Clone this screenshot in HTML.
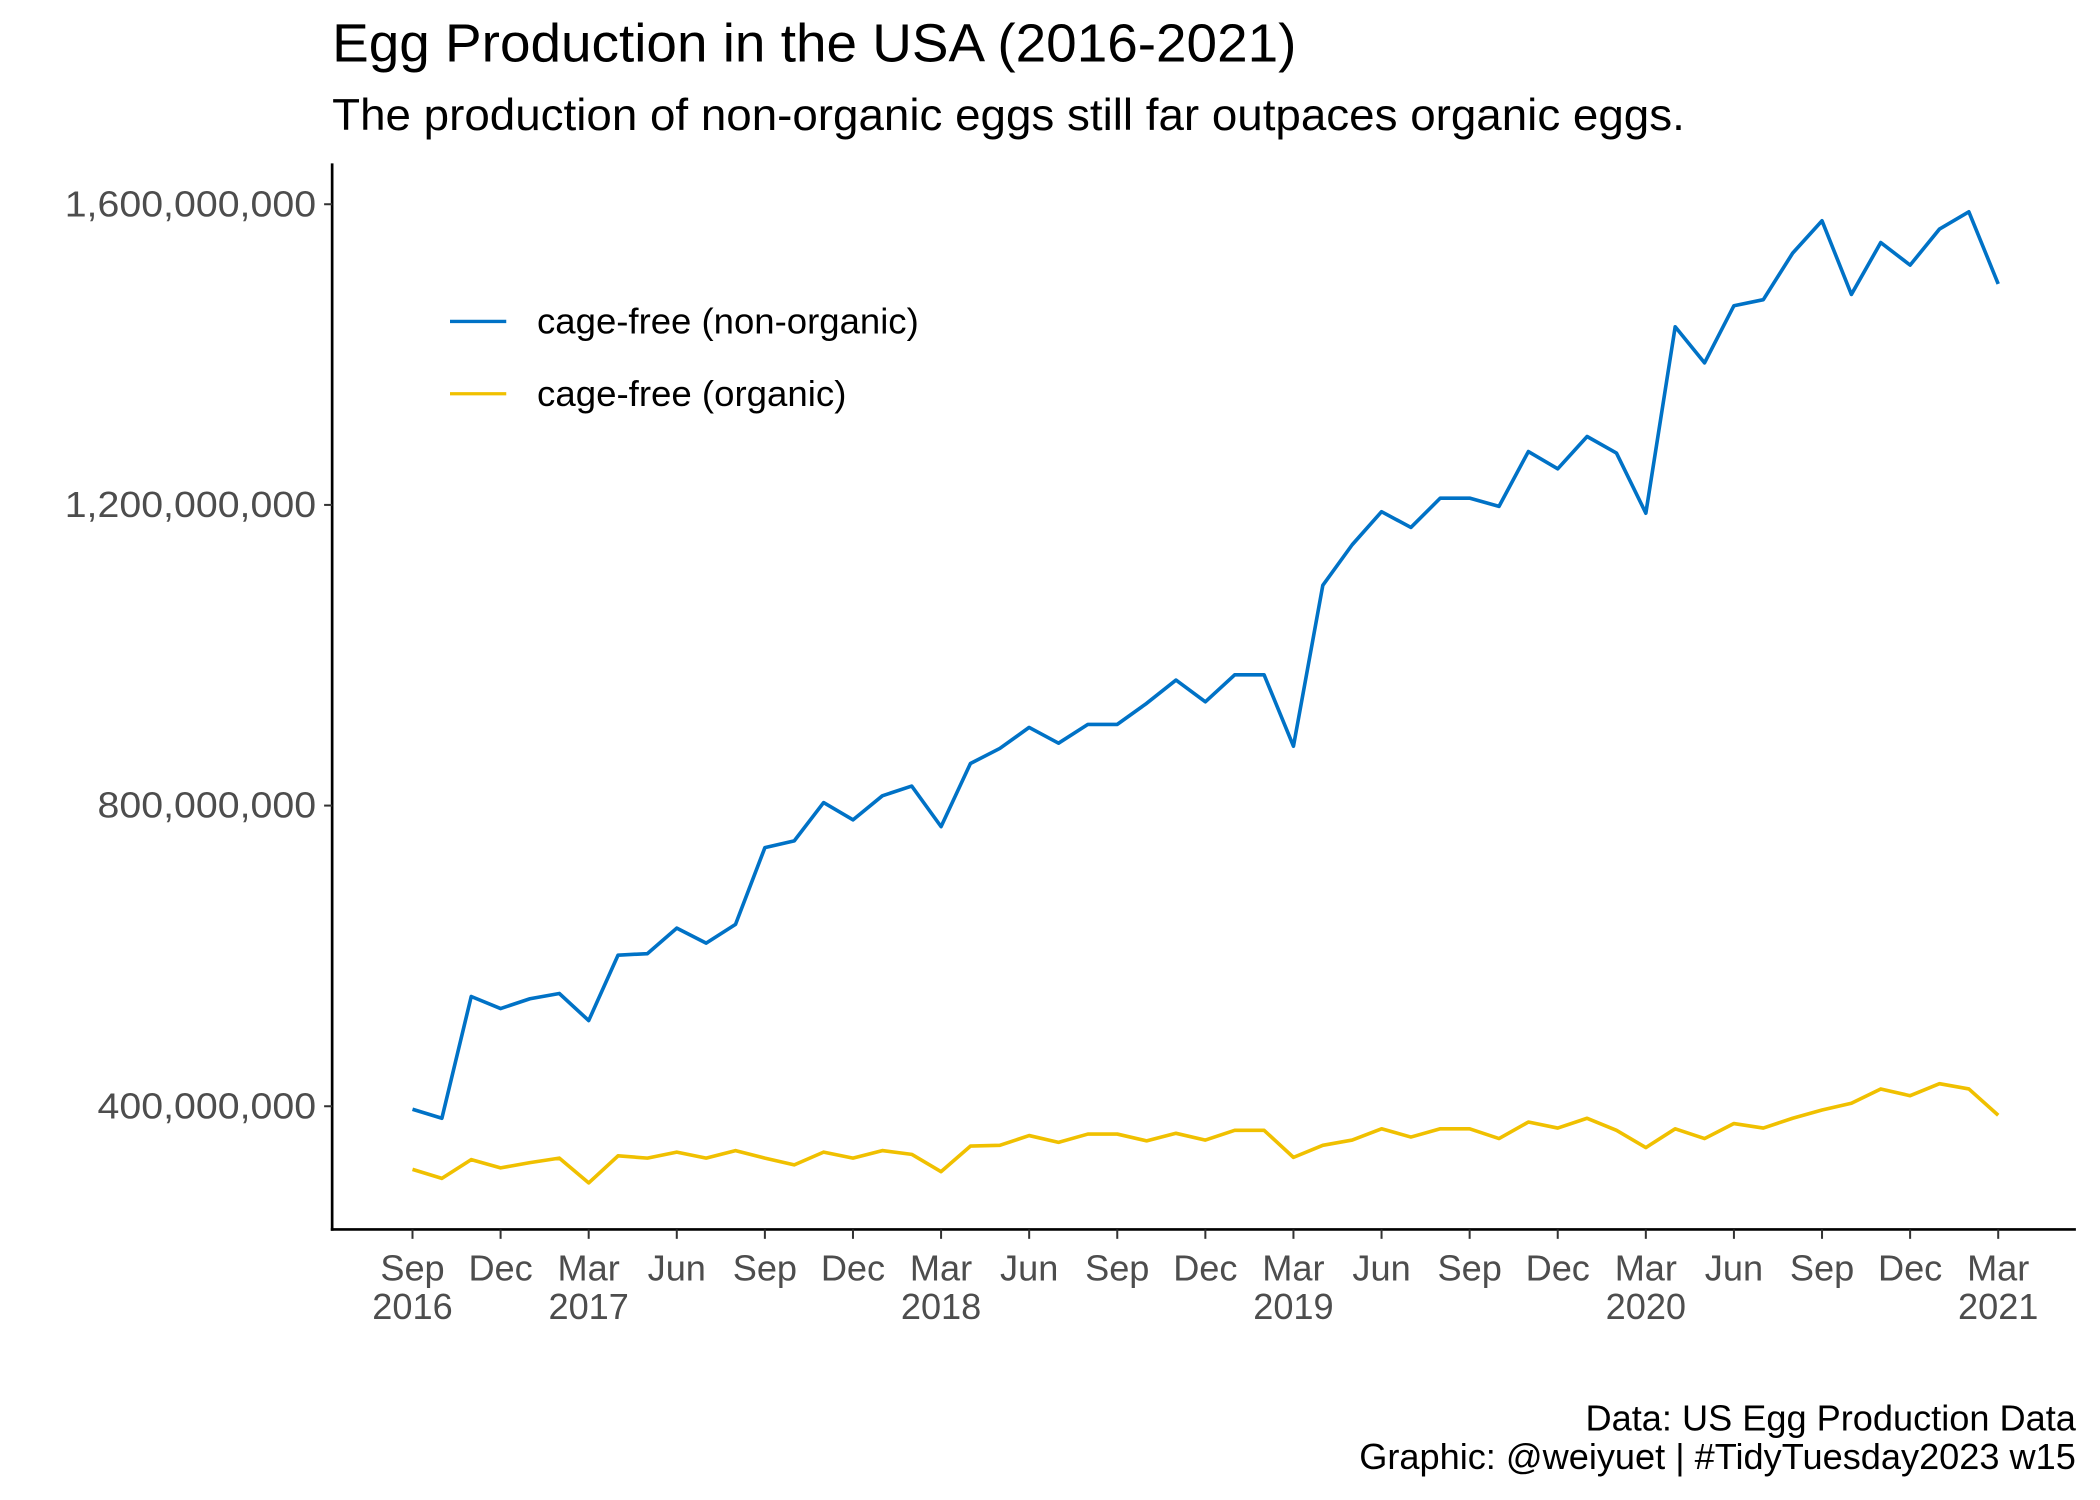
<!DOCTYPE html>
<html><head><meta charset="utf-8"><style>
html,body{margin:0;padding:0;background:#fff}
svg{display:block}
text{font-family:"Liberation Sans",Arial,sans-serif}
</style></head><body>
<svg id="chart" width="2100" height="1500" viewBox="0 0 1568 1120" xmlns="http://www.w3.org/2000/svg">
<rect width="1568" height="1120" fill="#fff"/>
<text x="248" y="46" font-size="40" textLength="720" lengthAdjust="spacingAndGlyphs" fill="#000">Egg Production in the USA (2016-2021)</text>
<text x="248" y="97" font-size="33" textLength="1010" lengthAdjust="spacingAndGlyphs" fill="#000">The production of non-organic eggs still far outpaces organic eggs.</text>
<g id="axes"></g>
<g id="series"></g>
<g>
<line x1="336" x2="378" y1="240" y2="240" stroke="#0072c6" stroke-width="2.5"/>
<text x="401" y="249" font-size="27" textLength="285" lengthAdjust="spacingAndGlyphs">cage-free (non-organic)</text>
<line x1="336" x2="378" y1="294" y2="294" stroke="#f0c000" stroke-width="2.5"/>
<text x="401" y="303" font-size="27" textLength="231" lengthAdjust="spacingAndGlyphs">cage-free (organic)</text>
</g>
<text x="1550" y="1068" font-size="27" text-anchor="end">Data: US Egg Production Data</text>
<text x="1550" y="1097" font-size="27" text-anchor="end">Graphic: @weiyuet | #TidyTuesday2023 w15</text>
</svg>
<script>
// values in millions of eggs, monthly Sep 2016 .. Mar 2021
const nonOrganic = [396,384,546,530,543,550,514,601,603,637,617,642,744,753,804,781,813,826,772,856,876,904,883,908,908,936,967,938,974,974,879,1093,1147,1191,1170,1209,1209,1198,1271,1248,1291,1269,1189,1437,1389,1465,1473,1535,1578,1480,1549,1519,1567,1590,1494];
const organic = [316,304,329,318,325,331,298,334,331,339,331,341,331,322,339,331,341,336,313,347,348,361,352,363,363,354,364,355,368,368,332,348,355,370,359,370,370,357,379,371,384,368,345,370,357,377,371,384,395,404,423,414,430,423,388];
const yTicks = [400,800,1200,1600];
const yTickLabels = ["400,000,000","800,000,000","1,200,000,000","1,600,000,000"];
const xTickMonths = ["Sep","Dec","Mar","Jun","Sep","Dec","Mar","Jun","Sep","Dec","Mar","Jun","Sep","Dec","Mar","Jun","Sep","Dec","Mar"];
const xTickYears = ["2016","","2017","","","","2018","","","","2019","","","","2020","","","","2021"];

const NS="http://www.w3.org/2000/svg";
const y = v => 826 - (v-400)*224.5/400;
const x = i => 308 + i*(1184/54);
function mk(tag, attrs, parent){const e=document.createElementNS(NS,tag);for(const k in attrs)e.setAttribute(k,attrs[k]);parent.appendChild(e);return e;}
const axes=document.getElementById('axes'), series=document.getElementById('series');
let e=mk('line',{x1:248,x2:248,y1:122,y2:919,stroke:'#000','stroke-width':2},axes);


e=mk('line',{x1:247,x2:1550,y1:918,y2:918,stroke:'#000','stroke-width':2},axes);


yTicks.forEach((v,i)=>{
  const t=mk('line',{x1:242,x2:248,y1:y(v),y2:y(v),stroke:'#333','stroke-width':1.5},axes);
  
  
  const l=mk('text',{x:236,y:y(v)+9,'font-size':27,fill:'#4d4d4d','text-anchor':'end'},axes);
  l.textContent=yTickLabels[i];
  
  
  const w=l.getComputedTextLength();
  if(w>0){l.setAttribute('textLength',(w*1.087).toFixed(1));l.setAttribute('lengthAdjust','spacingAndGlyphs');}
});
xTickMonths.forEach((m,i)=>{
  const xx=x(i*3);
  const t=mk('line',{x1:xx,x2:xx,y1:918,y2:925,stroke:'#333','stroke-width':1.5},axes);
  
  
  const l=mk('text',{x:xx,y:956,'font-size':27,fill:'#4d4d4d','text-anchor':'middle'},axes);
  l.textContent=m;
  
  
  if(xTickYears[i]){
    const yl=mk('text',{x:xx,y:985,'font-size':27,fill:'#4d4d4d','text-anchor':'middle'},axes);
    yl.textContent=xTickYears[i];
    
    
  }
});
function line(vals,color,name){
  const p=mk('polyline',{points:vals.map((v,i)=>x(i)+','+y(v)).join(' '),fill:'none',stroke:color,'stroke-width':2.7,'stroke-linejoin':'round'},series);
  
  
}
line(organic,'#f0c000','organic-line');
line(nonOrganic,'#0072c6','non-organic-line');
</script>
</body></html>
